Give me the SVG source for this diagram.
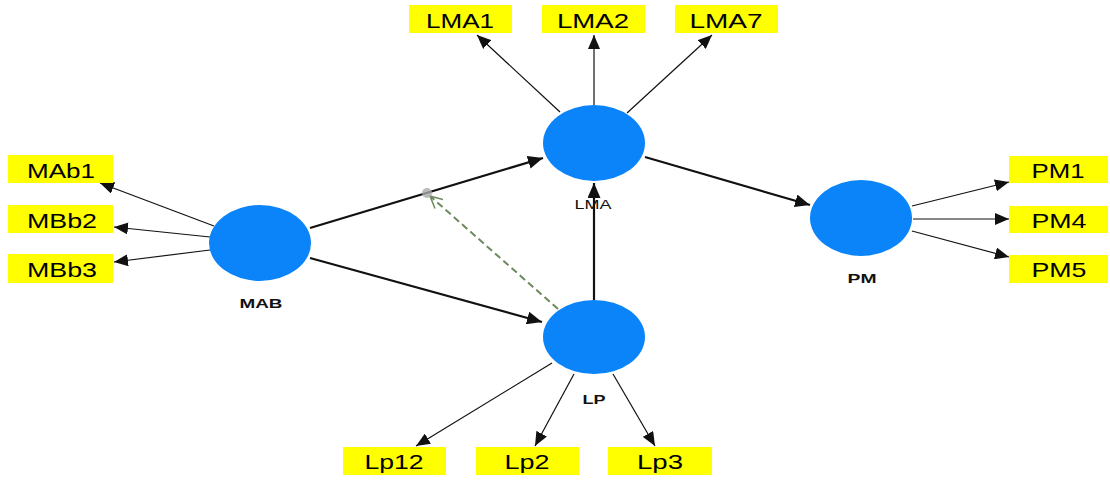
<svg xmlns="http://www.w3.org/2000/svg" width="1110" height="480" viewBox="0 0 1110 480">
<defs>
<style>
.box{fill:#ffff00}
.bt{font-family:"Liberation Sans",Arial,sans-serif;font-size:21px;fill:#000;text-anchor:middle}
.lv{fill:#0a84f8}
.lb{font-family:"Liberation Sans",Arial,sans-serif;font-size:13px;fill:#111;text-anchor:middle}
.thin{stroke:#111;stroke-width:1.2;fill:none;marker-end:url(#ah)}
.thick{stroke:#111;stroke-width:2.2;fill:none;marker-end:url(#ahb)}
.dash{stroke:#6b8a5e;stroke-width:2;stroke-dasharray:7 4;fill:none}
</style>
<marker id="ah" markerUnits="userSpaceOnUse" markerWidth="14" markerHeight="12" viewBox="0 0 14 12" refX="14" refY="6" orient="auto"><path d="M0,0 L14,6 L0,12 Z" fill="#111"/></marker>
<marker id="ahb" markerUnits="userSpaceOnUse" markerWidth="15" markerHeight="13" viewBox="0 0 15 13" refX="15" refY="6.5" orient="auto"><path d="M0,0 L15,6.5 L0,13 Z" fill="#111"/></marker>
<marker id="aho" markerUnits="userSpaceOnUse" markerWidth="14" markerHeight="14" viewBox="0 0 14 14" refX="13" refY="7" orient="auto"><path d="M1,1 L13,7 L1,13" fill="none" stroke="#6b8a5e" stroke-width="1.5"/></marker>
</defs>
<g id="connectors">
<line class="thin" x1="560" y1="112" x2="477" y2="35"/>
<line class="thin" x1="594" y1="105" x2="594" y2="35"/>
<line class="thin" x1="627" y1="113" x2="712" y2="35"/>
<line class="thin" x1="214" y1="226" x2="100" y2="183"/>
<line class="thin" x1="210" y1="237" x2="114" y2="227"/>
<line class="thin" x1="210" y1="250" x2="114" y2="262"/>
<line class="thin" x1="912" y1="206" x2="1009" y2="182"/>
<line class="thin" x1="913" y1="219" x2="1009" y2="219"/>
<line class="thin" x1="912" y1="231" x2="1009" y2="257"/>
<line class="thin" x1="552" y1="363" x2="416" y2="446"/>
<line class="thin" x1="574" y1="374" x2="535" y2="446"/>
<line class="thin" x1="613" y1="374" x2="655" y2="446"/>
<line class="thick" x1="310" y1="228" x2="543" y2="158"/>
<line class="thick" x1="310" y1="258" x2="542" y2="322"/>
<line class="thick" x1="645" y1="157" x2="810" y2="205"/>
<line class="thick" x1="594" y1="300" x2="594" y2="183"/>
<line class="dash" x1="558" y1="309" x2="430" y2="196" style="marker-end:url(#aho)"/>
<circle cx="427" cy="193" r="5" fill="#aaa" opacity="0.8"/>
</g>
<g id="LMA">
<ellipse class="lv" cx="594" cy="143" rx="51" ry="38"/>
<text class="lb" x="593" y="209" font-size="14" textLength="37" lengthAdjust="spacingAndGlyphs">LMA</text>
</g>
<g id="MAB">
<ellipse class="lv" cx="260" cy="243" rx="51" ry="38"/>
<text class="lb" x="261" y="308" font-weight="bold" textLength="43" lengthAdjust="spacingAndGlyphs">MAB</text>
</g>
<g id="PM">
<ellipse class="lv" cx="861" cy="218" rx="51" ry="38"/>
<text class="lb" x="862" y="283" font-weight="bold" textLength="29" lengthAdjust="spacingAndGlyphs">PM</text>
</g>
<g id="LP">
<ellipse class="lv" cx="594" cy="337" rx="51" ry="37"/>
<text class="lb" x="594" y="404" font-weight="bold" textLength="23" lengthAdjust="spacingAndGlyphs">LP</text>
</g>
<g id="LMA1"><rect class="box" x="409" y="5" width="103" height="28"/><text class="bt" x="460" y="28" textLength="68" lengthAdjust="spacingAndGlyphs">LMA1</text></g>
<g id="LMA2"><rect class="box" x="542" y="5" width="103" height="28"/><text class="bt" x="593" y="28" textLength="72" lengthAdjust="spacingAndGlyphs">LMA2</text></g>
<g id="LMA7"><rect class="box" x="675" y="5" width="103" height="28"/><text class="bt" x="726" y="28" textLength="73" lengthAdjust="spacingAndGlyphs">LMA7</text></g>
<g id="MAb1"><rect class="box" x="8" y="155" width="105" height="28"/><text class="bt" x="61" y="178" textLength="68" lengthAdjust="spacingAndGlyphs">MAb1</text></g>
<g id="MBb2"><rect class="box" x="8" y="205" width="105" height="28"/><text class="bt" x="62" y="228" textLength="70" lengthAdjust="spacingAndGlyphs">MBb2</text></g>
<g id="MBb3"><rect class="box" x="8" y="254" width="105" height="29"/><text class="bt" x="62" y="277" textLength="70" lengthAdjust="spacingAndGlyphs">MBb3</text></g>
<g id="PM1"><rect class="box" x="1009" y="156" width="99" height="27"/><text class="bt" x="1058" y="178" textLength="53" lengthAdjust="spacingAndGlyphs">PM1</text></g>
<g id="PM4"><rect class="box" x="1009" y="206" width="99" height="27"/><text class="bt" x="1059" y="228" textLength="55" lengthAdjust="spacingAndGlyphs">PM4</text></g>
<g id="PM5"><rect class="box" x="1009" y="255" width="99" height="28"/><text class="bt" x="1059" y="277" textLength="55" lengthAdjust="spacingAndGlyphs">PM5</text></g>
<g id="Lp12"><rect class="box" x="343" y="447" width="103" height="28"/><text class="bt" x="394" y="469" textLength="59" lengthAdjust="spacingAndGlyphs">Lp12</text></g>
<g id="Lp2"><rect class="box" x="476" y="447" width="103" height="28"/><text class="bt" x="527" y="469" textLength="45" lengthAdjust="spacingAndGlyphs">Lp2</text></g>
<g id="Lp3"><rect class="box" x="608" y="447" width="104" height="28"/><text class="bt" x="660" y="469" textLength="46" lengthAdjust="spacingAndGlyphs">Lp3</text></g>
</svg>
